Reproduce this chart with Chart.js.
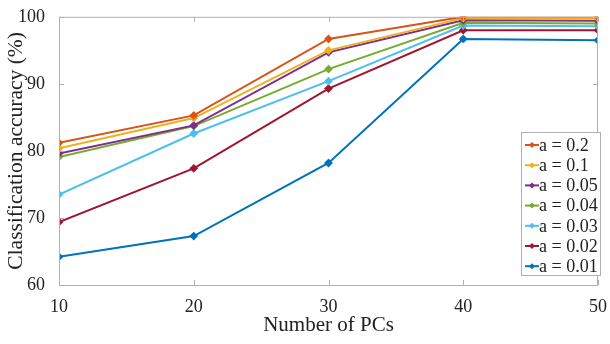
<!DOCTYPE html>
<html>
<head>
<meta charset="utf-8">
<script src="https://cdn.jsdelivr.net/npm/chart.js@4/dist/chart.umd.min.js"></script>
<style>
  html, body { margin: 0; padding: 0; background: #fff; }
</style>
</head>
<body>
<canvas id="acc-chart" width="610" height="344"></canvas>
<script>
// number of PCs
const pcs = [10, 20, 30, 40, 50];
const seriesLabels = ["a = 0.2", "a = 0.1", "a = 0.05", "a = 0.04", "a = 0.03", "a = 0.02", "a = 0.01"];
const acc02 = [81.2, 85.3, 96.7, 100.0, 100.0];
const acc01 = [80.4, 84.9, 95.0, 99.8, 99.8];
const acc005 = [79.6, 83.8, 94.7, 99.5, 99.4];
const acc004 = [79.1, 83.7, 92.2, 99.1, 99.0];
const acc003 = [73.5, 82.6, 90.4, 98.7, 98.6];
const acc002 = [69.4, 77.4, 89.3, 98.0, 98.0];
const acc001 = [64.2, 67.3, 78.2, 96.7, 96.5];
const yTicks = [60, 70, 80, 90, 100];
const xTicks = [10, 20, 30, 40, 50];

const colors = ["#D95319", "#EDB120", "#7E2F8E", "#77AC30", "#4DBEEE", "#A2142F", "#0072BD"];
const allSeries = [acc02, acc01, acc005, acc004, acc003, acc002, acc001];

const serif = "'Liberation Serif', 'Times New Roman', serif";

// MATLAB-style box, inward ticks and inside legend
const boxPlugin = {
  id: "boxPlugin",
  afterDraw(chart) {
    const { ctx, chartArea: a, scales } = chart;
    ctx.save();
    ctx.strokeStyle = "#b0b0b0";
    ctx.lineWidth = 1;
    ctx.strokeRect(a.left + 0.5, a.top + 0.5, a.right - a.left - 1, a.bottom - a.top);
    ctx.beginPath();
    yTicks.forEach(v => {
      const y = Math.round(scales.y.getPixelForValue(v)) + 0.5;
      ctx.moveTo(a.left, y); ctx.lineTo(a.left + 5, y);
      ctx.moveTo(a.right, y); ctx.lineTo(a.right - 5, y);
    });
    xTicks.forEach(v => {
      const x = Math.round(scales.x.getPixelForValue(v)) + 0.5;
      ctx.moveTo(x, a.bottom); ctx.lineTo(x, a.bottom - 5);
      ctx.moveTo(x, a.top); ctx.lineTo(x, a.top + 5);
    });
    ctx.stroke();

    // legend
    const lx = 521, ly = 132, lw = 79, lh = 143;
    ctx.fillStyle = "#fff";
    ctx.fillRect(lx, ly, lw, lh);
    ctx.strokeStyle = "#b0b0b0";
    ctx.strokeRect(lx + 0.5, ly + 0.5, lw, lh);
    ctx.font = "18px " + serif;
    ctx.textBaseline = "middle";
    chart.data.datasets.forEach((ds, i) => {
      const y = ly + 13 + i * 20.2;
      ctx.strokeStyle = ds.borderColor;
      ctx.lineWidth = 2;
      ctx.beginPath();
      ctx.moveTo(lx + 4, y); ctx.lineTo(lx + 18, y);
      ctx.stroke();
      ctx.fillStyle = ds.borderColor;
      ctx.beginPath();
      ctx.moveTo(lx + 11, y - 3); ctx.lineTo(lx + 14, y); ctx.lineTo(lx + 11, y + 3); ctx.lineTo(lx + 8, y);
      ctx.fill();
      ctx.fillStyle = "#222";
      ctx.fillText(ds.label, lx + 18, y + 1);
    });
    ctx.restore();
  }
};

const ctx = document.getElementById("acc-chart").getContext("2d");
new Chart(ctx, {
  type: "line",
  data: {
    datasets: allSeries.map((vals, i) => ({
      label: seriesLabels[i],
      data: pcs.map((p, j) => ({ x: p, y: vals[j] })),
      borderColor: colors[i],
      backgroundColor: colors[i],
      borderWidth: 2,
      pointStyle: "rectRot",
      pointRadius: 3,
      fill: false,
      tension: 0,
    })),
  },
  options: {
    responsive: false,
    animation: false,
    layout: { padding: { top: 13, right: 10, left: 0, bottom: 0 } },
    plugins: { legend: { display: false }, tooltip: { enabled: false } },
    scales: {
      x: {
        type: "linear",
        min: 10,
        max: 50,
        afterBuildTicks: s => { s.ticks = xTicks.map(v => ({ value: v })); },
        afterFit: s => { s.height = 59; },
        grid: { display: false },
        border: { display: false },
        ticks: { color: "#222", font: { family: serif, size: 18 }, padding: 3 },
        title: { display: true, text: "Number of PCs", color: "#222", font: { family: serif, size: 21 }, padding: { top: 0, bottom: 6 } },
      },
      y: {
        min: 60,
        max: 100,
        afterBuildTicks: s => { s.ticks = yTicks.map(v => ({ value: v })); },
        afterFit: s => { s.width = 59; },
        grid: { display: false },
        border: { display: false },
        ticks: { color: "#222", font: { family: serif, size: 18 }, padding: 6 },
        title: { display: true, text: "Classification accuracy (%)", color: "#222", font: { family: serif, size: 21.5 }, padding: { top: 3, bottom: 0 } },
      },
    },
  },
  plugins: [boxPlugin],
});
</script>
</body>
</html>
